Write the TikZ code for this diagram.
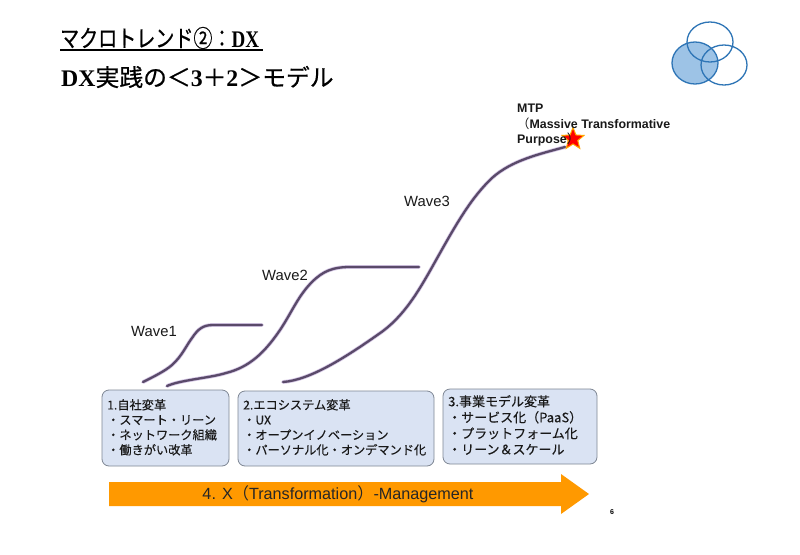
\documentclass[tikz,border=0pt]{standalone}
\usepackage{fontspec}
\setmainfont{Liberation Sans}
\newfontfamily\jpfont{Noto Sans CJK JP}
\newfontfamily\jptitle[FakeBold=0.6]{Noto Sans CJK JP}
\newfontfamily\jpbox[FakeBold=0.25]{Noto Sans CJK JP}
\newfontfamily\serifjp{Liberation Serif}
\usetikzlibrary{shapes.geometric,shapes.arrows}
\definecolor{boxfill}{HTML}{DAE3F3}
\definecolor{boxline}{HTML}{7F8794}
\definecolor{venn}{HTML}{2E75B6}
\definecolor{vennfill}{HTML}{9DC3E6}
\definecolor{wave}{HTML}{5A4A6A}
\definecolor{wavehalo}{HTML}{D6C8E6}
\definecolor{arrowor}{HTML}{FF9900}
\tikzset{
  infobox/.style={draw=boxline,fill=boxfill,rounded corners=7pt,line width=.8pt},
  infotext/.style={anchor=north west,inner sep=0pt,align=left,font=\jpbox\fontsize{12.2}{15}\selectfont,text=black!90},
  infotextbig/.style={anchor=north west,inner sep=0pt,align=left,font=\jpbox\fontsize{13}{16}\selectfont,text=black!90},
  wavelabel/.style={anchor=center,inner sep=0pt,font=\fontsize{14.8}{16}\selectfont,text=black!90},
  titletext/.style={anchor=west,inner sep=0pt,font=\jptitle\fontsize{23.8}{26}\selectfont},
  wavehalopath/.style={wavehalo,line width=3.8pt,line cap=round,line join=round},
  wavepath/.style={wave,line width=2.3pt,line cap=round,line join=round},
  venncircle/.style={draw=venn,line width=1.3pt},
}
\newcommand{\wavea}{(143,382) .. controls (155,376) and (165,371) .. (172,365) .. controls (182,356) and (186,346) .. (192,338) .. controls (198,329) and (203,325) .. (213,325) -- (262,325)}
\newcommand{\waveb}{(167,386) .. controls (180,380) and (210,378) .. (226,373) .. controls (250,367) and (265,352) .. (280,330) .. controls (292,312) and (298,296) .. (312,282) .. controls (323,271) and (333,267) .. (350,267) -- (419,267)}
\newcommand{\wavec}{(283,382) .. controls (310,380) and (345,358) .. (383,331) .. controls (408,312) and (422,285) .. (440,253) .. controls (458,221) and (472,197) .. (492,178) .. controls (512,160) and (540,154) .. (565,147)}
\begin{document}
\begin{tikzpicture}[x=1pt,y=-1pt]
\useasboundingbox (0,0) rectangle (800,554);
\fill[white] (0,0) rectangle (800,554);
% title
\node[titletext,xscale=.8,anchor=west] (t1) at (60,38) {マクロトレンド②：{\serifjp\bfseries DX}};
\coordinate (ul1) at (60,50);
\coordinate (ul2) at (263,50);
\draw[line width=1.2pt] (ul1) -- (ul2);
\node[titletext] (t2) at (61,77) {{\serifjp\bfseries DX}実践の＜{\serifjp\bfseries 3}＋{\serifjp\bfseries 2}＞モデル};
% venn
\fill[vennfill] (695,63) ellipse [x radius=23,y radius=21];
\draw[venncircle] (695,63) ellipse [x radius=23,y radius=21];
\draw[venncircle] (710,42) ellipse [x radius=23,y radius=20];
\draw[venncircle] (724,65) ellipse [x radius=23,y radius=20];
% waves
\draw[wavehalopath] \wavea;
\draw[wavehalopath] \waveb;
\draw[wavehalopath] \wavec;
\draw[wavepath] \wavea;
\draw[wavepath] \waveb;
\draw[wavepath] \wavec;
\node[wavelabel] (w1) at (154,331) {Wave1};
\node[wavelabel] (w2) at (285,275) {Wave2};
\node[wavelabel] (w3) at (427,201) {Wave3};
% star + MTP
\node[star,star points=5,star point ratio=2.3,fill=red,draw=orange!70!yellow,line width=1pt,minimum size=23pt,inner sep=0pt] (st) at (573,139) {};
\node[anchor=north west,inner sep=0pt,align=left,font=\bfseries\fontsize{12.4}{15.3}\selectfont,text=black!90] (mtp) at (517,104) {MTP\\{\jpfont\mdseries （}Massive Transformative\\Purpose{\jpfont\mdseries ）}};
% boxes
\draw[infobox] (102,390) rectangle (229,466);
\draw[infobox] (238,391) rectangle (434,466);
\draw[infobox] (443,389) rectangle (597,464);
\node[infotext] (b1) at (107,399) {1.自社変革\\・スマート・リーン\\・ネットワーク組織\\・働きがい改革};
\node[infotext] (b2) at (243,399) {2.エコシステム変革\\・UX\\・オープンイノベーション\\・パーソナル化・オンデマンド化};
\node[infotextbig] (b3) at (448,395) {3.事業モデル変革\\・サービス化（PaaS）\\・プラットフォーム化\\・リーン＆スケール};
% arrow
\fill[arrowor] (109,482) -- (561,482) -- (561,474) -- (589,494) -- (561,514) -- (561,506) -- (109,506) -- cycle;
\node[inner sep=0pt,font=\fontsize{16.2}{18}\selectfont,text=black!85] (arrowlabel) at (338,494) {4. X{\jpfont （}Transformation{\jpfont ）}-Management};
% page number
\node[inner sep=0pt,font=\bfseries\fontsize{7}{8}\selectfont] (pg) at (612,512) {6};
\end{tikzpicture}
\end{document}
